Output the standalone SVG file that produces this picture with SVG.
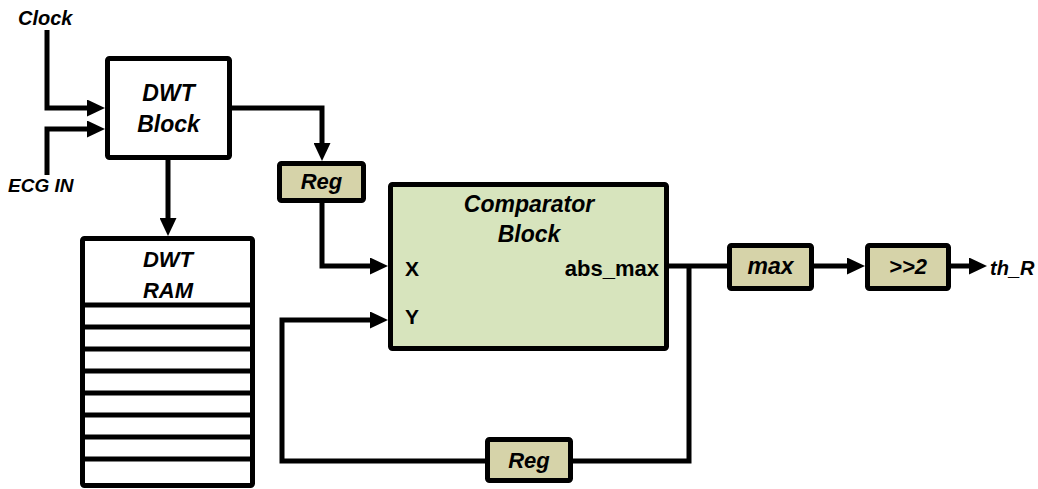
<svg xmlns="http://www.w3.org/2000/svg" width="1038" height="489" viewBox="0 0 1038 489">
  <defs>
    <style>
      .box { fill: #ffffff; stroke: #000; stroke-width: 5; stroke-linejoin: round; }
      .tan { fill: #d6d3a9; stroke: #000; stroke-width: 5; stroke-linejoin: round; }
      .green { fill: #d7e4bd; stroke: #000; stroke-width: 5; stroke-linejoin: round; }
      .wire { fill: none; stroke: #000; stroke-width: 5; stroke-linejoin: miter; }
      .arr { marker-end: url(#ah); }
      .t { font-family: "Liberation Sans", Arial, sans-serif; font-weight: bold; font-style: italic; fill: #000; }
      .n { font-family: "Liberation Sans", Arial, sans-serif; font-weight: bold; fill: #000; }
      .c { text-anchor: middle; }
    </style>
    <marker id="ah" markerUnits="userSpaceOnUse" markerWidth="18" markerHeight="17" viewBox="0 0 18 17" refX="8" refY="8.5" orient="auto">
      <path d="M0,0 L18,8.5 L0,17 Z" fill="#000"/>
    </marker>
  </defs>

  <g id="connectors">
    <path class="wire arr" d="M47,30 V108 H95"/>
    <path class="wire arr" d="M47,175 V129 H95"/>
    <path class="wire arr" d="M232,108 H322 V151"/>
    <path class="wire arr" d="M168,160 V226"/>
    <path class="wire arr" d="M322,203 V266 H378"/>
    <path class="wire" d="M669,266 H727"/>
    <path class="wire" d="M689,266 V461 H573"/>
    <path class="wire arr" d="M485,461 H282 V320 H378"/>
    <path class="wire arr" d="M814,266 H855"/>
    <path class="wire arr" d="M951,266 H977"/>
  </g>

  <g id="label-clock">
    <text class="t" x="18" y="25" font-size="20">Clock</text>
  </g>
  <g id="label-ecg">
    <text class="t" x="8" y="192" font-size="19">ECG IN</text>
  </g>

  <g id="dwt-block">
    <rect class="box" x="107.5" y="58.5" width="122" height="99" rx="2"/>
    <text class="t c" x="168.5" y="101" font-size="23">DWT</text>
    <text class="t c" x="168.5" y="132" font-size="23">Block</text>
  </g>

  <g id="dwt-ram">
    <rect class="box" x="82.5" y="238.5" width="170" height="247" rx="2"/>
    <g stroke="#000" stroke-width="5">
      <line x1="82.5" y1="305" x2="252.5" y2="305"/>
      <line x1="82.5" y1="327" x2="252.5" y2="327"/>
      <line x1="82.5" y1="349" x2="252.5" y2="349"/>
      <line x1="82.5" y1="371" x2="252.5" y2="371"/>
      <line x1="82.5" y1="393" x2="252.5" y2="393"/>
      <line x1="82.5" y1="415" x2="252.5" y2="415"/>
      <line x1="82.5" y1="437" x2="252.5" y2="437"/>
      <line x1="82.5" y1="459" x2="252.5" y2="459"/>
    </g>
    <text class="t c" x="168" y="267" font-size="22">DWT</text>
    <text class="t c" x="168" y="298" font-size="22">RAM</text>
  </g>

  <g id="reg-top">
    <rect class="tan" x="279.5" y="163.5" width="84" height="37" rx="2"/>
    <text class="t c" x="321.5" y="189" font-size="22">Reg</text>
  </g>

  <g id="comparator">
    <rect class="green" x="390.5" y="184.5" width="276" height="164" rx="2"/>
    <text class="t c" x="529" y="212" font-size="23">Comparator</text>
    <text class="t c" x="529" y="242" font-size="23">Block</text>
    <text class="n" x="405" y="276" font-size="21">X</text>
    <text class="n" x="405" y="324" font-size="21">Y</text>
    <text class="n" x="659" y="276" font-size="22" text-anchor="end">abs_max</text>
  </g>

  <g id="max">
    <rect class="tan" x="729.5" y="245.5" width="82" height="43" rx="2"/>
    <text class="t c" x="770.5" y="274" font-size="23">max</text>
  </g>

  <g id="shift">
    <rect class="tan" x="867.5" y="245.5" width="81" height="43" rx="2"/>
    <text class="t c" x="908" y="274" font-size="22">&gt;&gt;2</text>
  </g>

  <g id="label-thr">
    <text class="t" x="990" y="275" font-size="20">th_R</text>
  </g>

  <g id="reg-bottom">
    <rect class="tan" x="487.5" y="439.5" width="83" height="41" rx="2"/>
    <text class="t c" x="529" y="468" font-size="22">Reg</text>
  </g>
</svg>
